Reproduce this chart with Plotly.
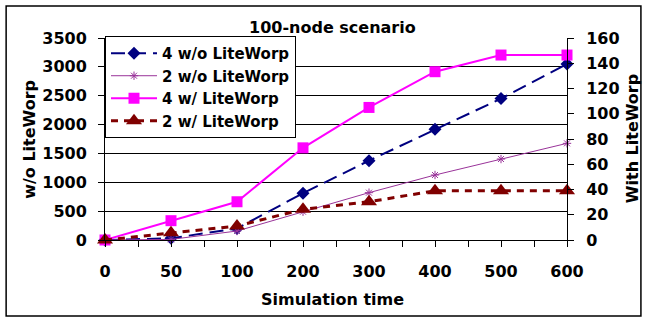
import plotly.graph_objects as go

categories = ["0", "50", "100", "200", "300", "400", "500", "600"]
four_wo = [0, 30, 200, 810, 1375, 1918, 2450, 3050]
two_wo = [0, 10, 156, 490, 820, 1126, 1403, 1675]
four_w = [0, 15.3, 30.3, 73, 105, 133.3, 146.5, 146.5]
two_w = [0, 5.8, 11.1, 24.3, 30.3, 39, 39, 39]

xi = list(range(len(categories)))
FONT = "DejaVu Sans, Verdana, sans-serif"
FS = 16

fig = go.Figure()
fig.add_trace(go.Scatter(x=xi, y=four_wo, name="4 w/o LiteWorp", mode="lines+markers",
                         line=dict(color="#000080", width=2, dash="14px,7px"),
                         marker=dict(symbol="diamond", size=10, color="#000080"),
                         cliponaxis=False))
fig.add_trace(go.Scatter(x=xi, y=two_wo, name="2 w/o LiteWorp", mode="lines+markers",
                         line=dict(color="#993399", width=1),
                         marker=dict(symbol="asterisk-open", size=7, color="#993399",
                                     line=dict(color="#993399", width=1)),
                         cliponaxis=False))
fig.add_trace(go.Scatter(x=xi, y=four_w, name="4 w/ LiteWorp", mode="lines+markers", yaxis="y2",
                         line=dict(color="#FF00FF", width=2),
                         marker=dict(symbol="square", size=11, color="#FF00FF"),
                         cliponaxis=False))
fig.add_trace(go.Scatter(x=xi, y=two_w, name="2 w/ LiteWorp", mode="lines+markers", yaxis="y2",
                         line=dict(color="#800000", width=3, dash="7px,6px"),
                         marker=dict(symbol="triangle-up", size=14, color="#800000"),
                         cliponaxis=False))

tickvals = [i * 0.5 for i in range(2 * len(categories) - 1)]
ticktext = [categories[int(v)] if v == int(v) else "" for v in tickvals]

fig.update_layout(
    width=646, height=322,
    margin=dict(l=105, r=79, t=38, b=82),
    paper_bgcolor="white", plot_bgcolor="white",
    font=dict(family=FONT, size=FS, color="black", weight="bold"),
    showlegend=True,
    legend=dict(x=0, y=1.01, xanchor="left", yanchor="top", bgcolor="white",
                bordercolor="black", borderwidth=1, font=dict(size=15, weight="bold"),
                tracegroupgap=0, itemwidth=46),
    xaxis=dict(range=[0, len(categories) - 1], tickvals=tickvals, ticktext=ticktext,
               ticks="outside", ticklen=6, tickcolor="black", showline=True,
               linecolor="black", linewidth=1, showgrid=False, zeroline=False,
               ticklabelstandoff=11, tickfont=dict(size=FS, weight="bold")),
    yaxis=dict(range=[0, 3500], dtick=500, ticks="outside", ticklen=6, tickcolor="black",
               showline=True, linecolor="black", linewidth=1, showgrid=True,
               gridcolor="black", gridwidth=1, zeroline=False,
               ticklabelstandoff=8, tickfont=dict(size=FS, weight="bold")),
    yaxis2=dict(range=[0, 160], dtick=20, overlaying="y", side="right", ticks="outside",
                ticklen=6, tickcolor="black", showline=True, linecolor="black", linewidth=1,
                showgrid=False, zeroline=False, ticklabelstandoff=9,
                tickfont=dict(size=FS, weight="bold")),
)

fig.add_annotation(text="100-node scenario", xref="paper", yref="paper", x=0.493, y=1.054,
                   xanchor="center", yanchor="middle",
                   showarrow=False, font=dict(size=FS, weight="bold"))
fig.add_annotation(text="Simulation time", xref="paper", yref="paper", x=0.493, y=-0.297,
                   xanchor="center", yanchor="middle",
                   showarrow=False, font=dict(size=FS, weight="bold"))
fig.add_annotation(text="w/o LiteWorp", xref="paper", yref="paper", x=-0.165, y=0.5,
                   xanchor="center", yanchor="middle",
                   textangle=-90, showarrow=False, font=dict(size=FS, weight="bold"))
fig.add_annotation(text="With LiteWorp", xref="paper", yref="paper", x=1.141, y=0.5,
                   xanchor="center", yanchor="middle",
                   textangle=-90, showarrow=False, font=dict(size=FS, weight="bold"))

fig.add_shape(type="rect", xref="paper", yref="paper", x0=-0.214, x1=1.16, y0=-0.376, y1=1.158,
              line=dict(color="black", width=1.5), fillcolor="rgba(0,0,0,0)", layer="below")

fig.write_html("out.html", config=dict(displayModeBar=False),
               post_script="document.body.style.margin='0';document.body.style.padding='0';")
